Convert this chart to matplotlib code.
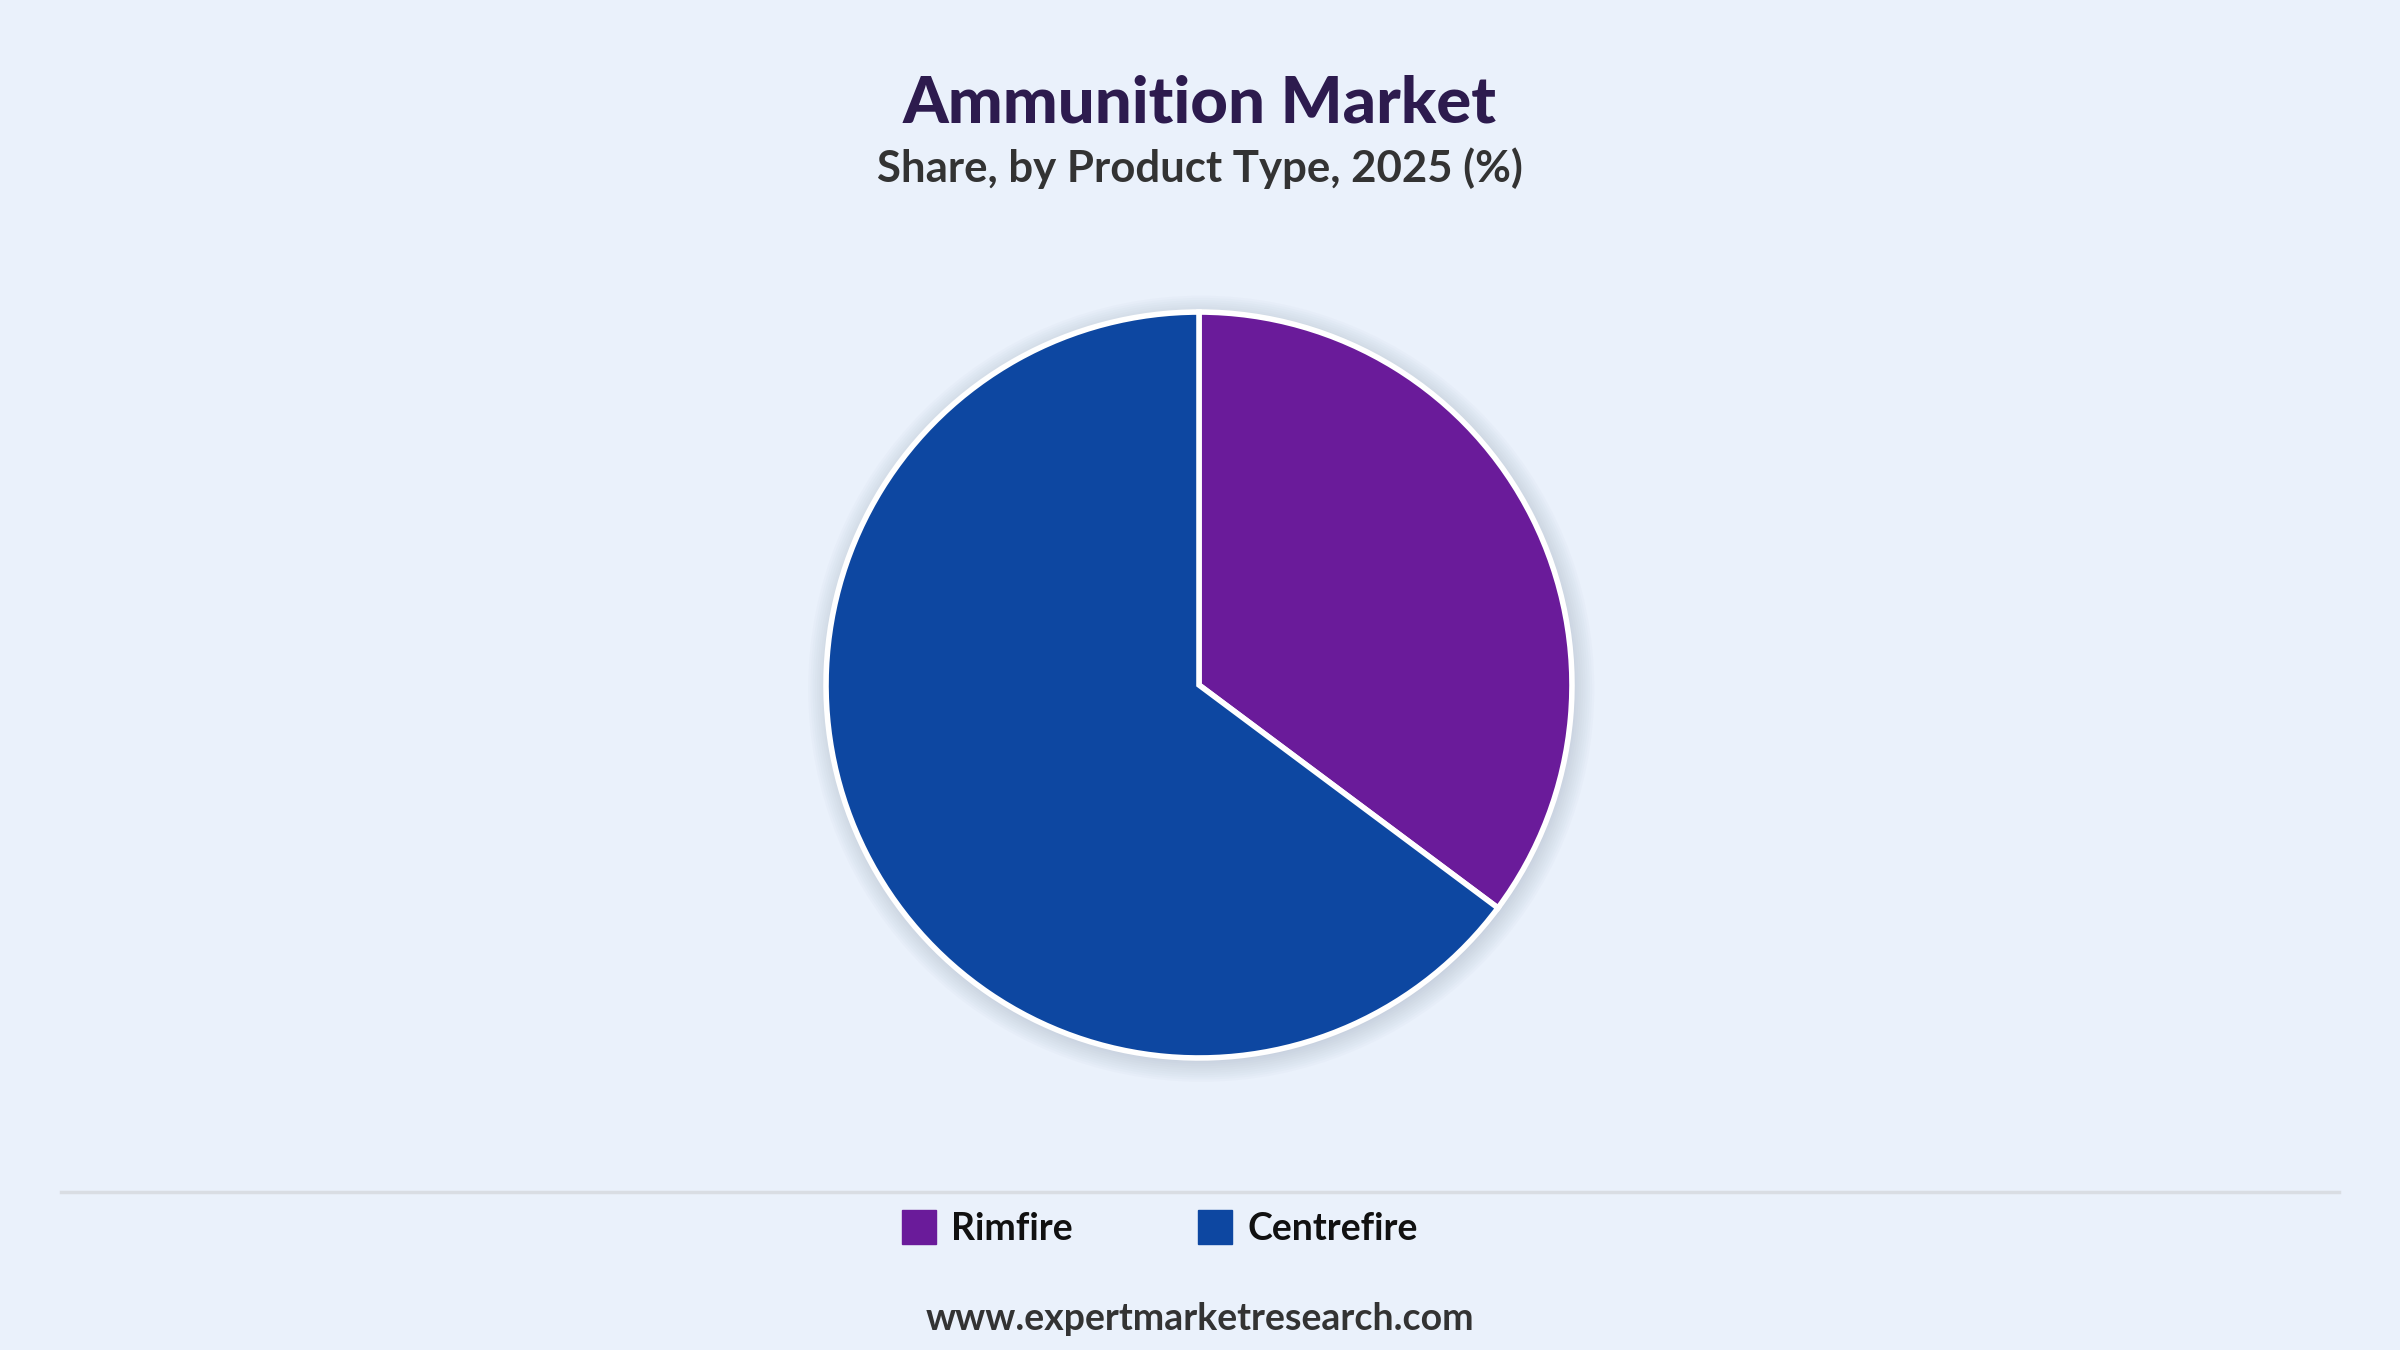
import matplotlib.pyplot as plt
from matplotlib.lines import Line2D
from matplotlib.patches import Circle

# data
categories = ["Rimfire", "Centrefire"]
shares = [35.2, 64.8]
colors = ["#6A1B9A", "#0D47A1"]

title = "Ammunition Market"
subtitle = "Share, by Product Type, 2025 (%)"
footer = "www.expertmarketresearch.com"

bg = "#EAF1FB"

plt.rcParams['font.family'] = ['Lato', 'DejaVu Sans']

fig = plt.figure(figsize=(24, 13.5), dpi=100, facecolor=bg)

# pie axes: 800px square centred on the pie centre
cx, cy = 1199 / 2400, 1 - 685 / 1350
w, h = 800 / 2400, 800 / 1350
ax = fig.add_axes([cx - w / 2, cy - h / 2, w, h])
ax.set_facecolor(bg)

# soft shadow
for k in range(10):
    ax.add_patch(Circle((0.006, -0.01), 1.0 + 0.006 * k, color='#8a9ab0',
                        alpha=0.035, lw=0, zorder=0))

ax.pie(shares, colors=colors, startangle=90, counterclock=False,
       radius=1.0, wedgeprops=dict(edgecolor='white', linewidth=4, zorder=2))
ax.set_xlim(-1.0725, 1.0725)
ax.set_ylim(-1.0725, 1.0725)
ax.set_aspect('equal')
ax.axis('off')

fig.text(0.5, 1 - 104 / 1350, title, ha='center', va='center',
         fontsize=47, fontweight='black', color='#2D1B4E')
fig.text(0.5, 1 - 168 / 1350, subtitle, ha='center', va='center',
         fontsize=31.5, fontweight='bold', color='#333333')

# separator line
fig.add_artist(Line2D([61 / 2400, 2339 / 2400], [1 - 1192 / 1350] * 2,
                      color='#D9DDE3', lw=2.5))

handles = [Line2D([], [], marker='s', linestyle='none', markersize=25,
                  markerfacecolor=c, markeredgecolor=c) for c in colors]
fig.legend(handles, categories, loc='center', ncol=2,
           bbox_to_anchor=(1159 / 2400, 1 - 1229 / 1350), frameon=False,
           prop=dict(size=27, weight='bold'), labelcolor='#111111',
           handletextpad=0.35, columnspacing=3.3, handlelength=1.0)

fig.text(0.5, 1 - 1319 / 1350, footer, ha='center', va='center',
         fontsize=27, fontweight='bold', color='#333333')

fig.savefig('out.png', dpi=100, facecolor=bg)
